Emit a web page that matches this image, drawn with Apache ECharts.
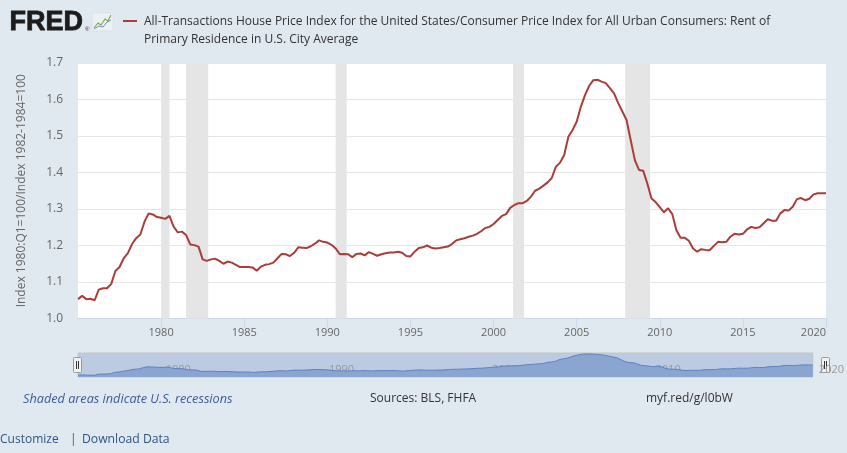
<!DOCTYPE html>
<html>
<head>
<meta charset="utf-8">
<script src="https://cdn.jsdelivr.net/npm/echarts@6/dist/echarts.min.js"></script>
<style>
html,body{margin:0;padding:0;background:#e1e9f0;}
#chart{width:847px;height:453px;}
</style>
</head>
<body>
<div id="chart"></div>
<script>
// Quarterly data, first quarter 1975 Q1
const startYear = 1975;
const values = [
1.053,1.062,1.053,1.054,1.050,1.079,1.083,1.083,1.095,1.130,
1.141,1.165,1.179,1.204,1.220,1.230,1.265,1.288,1.285,1.278,
1.276,1.273,1.281,1.252,1.236,1.238,1.229,1.203,1.201,1.197,
1.162,1.158,1.162,1.164,1.158,1.150,1.156,1.153,1.147,1.141,
1.141,1.141,1.140,1.131,1.142,1.147,1.149,1.153,1.165,1.177,
1.176,1.171,1.180,1.195,1.194,1.193,1.198,1.205,1.214,1.210,
1.208,1.202,1.192,1.176,1.177,1.176,1.168,1.177,1.178,1.173,
1.182,1.177,1.172,1.176,1.179,1.181,1.181,1.183,1.180,1.171,
1.170,1.183,1.193,1.195,1.200,1.194,1.192,1.193,1.195,1.197,
1.204,1.214,1.217,1.220,1.224,1.227,1.232,1.239,1.248,1.251,
1.259,1.270,1.281,1.286,1.303,1.311,1.316,1.316,1.322,1.334,
1.350,1.356,1.364,1.373,1.385,1.416,1.427,1.448,1.498,1.516,
1.539,1.580,1.612,1.637,1.653,1.654,1.649,1.645,1.631,1.617,
1.590,1.567,1.544,1.489,1.434,1.407,1.405,1.370,1.329,1.319,
1.305,1.291,1.302,1.286,1.242,1.221,1.221,1.213,1.192,1.183,
1.190,1.188,1.187,1.199,1.210,1.209,1.210,1.224,1.232,1.230,
1.232,1.244,1.251,1.248,1.250,1.261,1.272,1.268,1.268,1.288,
1.297,1.296,1.306,1.327,1.330,1.324,1.328,1.340,1.343,1.343,
1.343
];
// US recessions (decimal years)
const recessionStarts = [1980.0, 1981.5, 1990.5, 2001.167, 2007.917];
const recessionEnds   = [1980.5, 1982.833, 1991.167, 2001.833, 2009.417];
const yTicks = [1.0, 1.1, 1.2, 1.3, 1.4, 1.5, 1.6, 1.7];
const seriesName = 'All-Transactions House Price Index for the United States/Consumer Price Index for All Urban Consumers: Rent of Primary Residence in U.S. City Average';
const yAxisTitle = 'Index 1980:Q1=100/Index 1982-1984=100';

const data = values.map((v, i) => [startYear + i / 4, v]);
const bands = recessionStarts.map((s, i) => [{xAxis: s}, {xAxis: recessionEnds[i]}]);

const FONT = '"Open Sans", sans-serif';
const chart = echarts.init(document.getElementById('chart'), null, {renderer: 'canvas'});

chart.setOption({
  backgroundColor: '#e1e9f0',
  animation: false,
  textStyle: {fontFamily: FONT},
  grid: [
    {left: 78, right: 21, top: 63, bottom: 134.5, show: true, backgroundColor: '#ffffff', borderWidth: 0},
    {left: 78, right: 21, top: 353, height: 24, show: true, backgroundColor: '#bccbe2', borderColor: '#c4c4c4', borderWidth: 1}
  ],
  xAxis: [
    {
      type: 'value', gridIndex: 0, min: 1975, max: 2020, interval: 5,
      axisLine: {show: true, lineStyle: {color: '#ccd6eb', width: 1}},
      axisTick: {show: true, length: 9, lineStyle: {color: '#ccd6eb'}},
      axisLabel: {color: '#666666', fontSize: 11, fontFamily: FONT, margin: 9, showMinLabel: false,
        alignMaxLabel: 'right', formatter: v => String(v)},
      splitLine: {show: false}
    },
    {
      type: 'value', gridIndex: 1, min: 1975, max: 2020, interval: 5,
      axisLine: {show: false}, axisTick: {show: false}, splitLine: {show: false},
      axisLabel: {inside: true, color: '#999999', fontSize: 11, fontFamily: FONT, margin: 2, align: 'left',
        padding: [0, 0, 0, 6], showMinLabel: false,
        formatter: v => (v % 10 === 0 ? String(v) : '')}
    }
  ],
  yAxis: [
    {
      type: 'value', gridIndex: 0, min: 1.0, max: 1.7, interval: 0.1,
      name: yAxisTitle, nameLocation: 'middle', nameGap: 50,
      nameTextStyle: {color: '#666666', fontSize: 12, fontFamily: FONT},
      axisLine: {show: false}, axisTick: {show: false},
      axisLabel: {color: '#666666', fontSize: 12, fontFamily: FONT, margin: 15, formatter: v => v.toFixed(1)},
      splitLine: {show: true, lineStyle: {color: '#e6e6e6', width: 1}}
    },
    {type: 'value', gridIndex: 1, min: 1.0, max: 1.68, show: false}
  ],
  series: [
    {
      name: seriesName, type: 'line', xAxisIndex: 0, yAxisIndex: 0, data: data,
      showSymbol: false, symbol: 'none', silent: true,
      lineStyle: {color: '#aa3d39', width: 2}, itemStyle: {color: '#aa3d39'},
      z: 3,
      markArea: {silent: true, itemStyle: {color: '#e5e5e5', opacity: 1}, data: bands}
    },
    {
      type: 'line', xAxisIndex: 1, yAxisIndex: 1, data: data, showSymbol: false, symbol: 'none', silent: true,
      lineStyle: {color: '#5f81be', width: 1}, areaStyle: {color: '#8ba5d1', opacity: 1}
    }
  ],
  graphic: [
    {type: 'text', left: 9, top: 9, style: {text: 'FRED', font: 'bold 27px "Liberation Sans", Arial, sans-serif', fill: '#1c1c1c', stroke: '#1c1c1c', lineWidth: 0.8}},
    {type: 'text', left: 85, top: 26, style: {text: '®', font: '6px "Liberation Sans"', fill: '#333'}},
    {type: 'rect', shape: {x: 92, y: 13, width: 21, height: 18, r: 2}, style: {fill: '#eef1f3', stroke: '#d0d6dc', lineWidth: 0.5}},
    {type: 'polyline', shape: {points: [[94, 28], [98, 23], [101, 25], [105, 19], [108, 21], [111, 15]]}, style: {stroke: '#7fae4f', lineWidth: 1.2, fill: null}},
    {type: 'polyline', shape: {points: [[94, 29], [99, 26], [103, 27], [107, 22], [111, 20]]}, style: {stroke: '#6f93c6', lineWidth: 1, fill: null}},
    {type: 'line', shape: {x1: 123, y1: 21, x2: 137, y2: 21}, style: {stroke: '#aa3d39', lineWidth: 2}},
    {type: 'text', left: 144, top: 13, style: {
      text: 'All-Transactions House Price Index for the United States/Consumer Price Index for All Urban Consumers: Rent of\nPrimary Residence in U.S. City Average',
      font: '12px ' + FONT, fill: '#333333', lineHeight: 17.5}},
    // navigator handles
    {type: 'rect', shape: {x: 73.5, y: 357.5, width: 8, height: 15, r: 1}, style: {fill: '#f2f2f2', stroke: '#999999', lineWidth: 1}},
    {type: 'line', shape: {x1: 76.5, y1: 361, x2: 76.5, y2: 369}, style: {stroke: '#333', lineWidth: 1}},
    {type: 'line', shape: {x1: 78.5, y1: 361, x2: 78.5, y2: 369}, style: {stroke: '#333', lineWidth: 1}},
    {type: 'rect', shape: {x: 821.5, y: 357.5, width: 8, height: 15, r: 1}, style: {fill: '#f2f2f2', stroke: '#999999', lineWidth: 1}},
    {type: 'line', shape: {x1: 824.5, y1: 361, x2: 824.5, y2: 369}, style: {stroke: '#333', lineWidth: 1}},
    {type: 'line', shape: {x1: 826.5, y1: 361, x2: 826.5, y2: 369}, style: {stroke: '#333', lineWidth: 1}},
    // footer
    {type: 'text', left: 23, top: 393, style: {text: 'Shaded areas indicate U.S. recessions', font: 'italic 12.7px ' + FONT, fill: '#3b5b9a'}},
    {type: 'text', left: 370, top: 393, style: {text: 'Sources: BLS, FHFA', font: '12px ' + FONT, fill: '#333333'}},
    {type: 'text', left: 646, top: 393, style: {text: 'myf.red/g/l0bW', font: '12px ' + FONT, fill: '#333333'}},
    {type: 'text', left: 0, top: 434, style: {text: 'Customize', font: '12px ' + FONT, fill: '#2f5487'}},
    {type: 'text', left: 70, top: 434, style: {text: '|', font: '12px ' + FONT, fill: '#555555'}},
    {type: 'text', left: 82, top: 434, style: {text: 'Download Data', font: '12.2px ' + FONT, fill: '#2f5487'}}
  ]
});
</script>
</body>
</html>
